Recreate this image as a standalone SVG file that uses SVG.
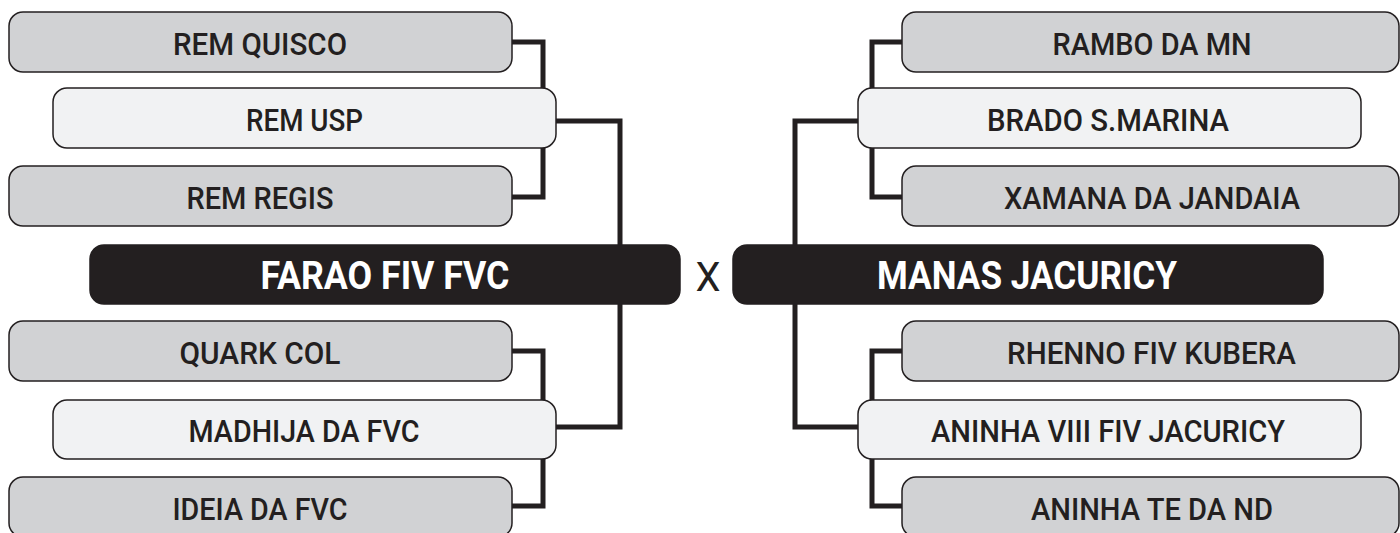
<svg xmlns="http://www.w3.org/2000/svg" width="1400" height="533" viewBox="0 0 1400 533">
<style>
.c{fill:none;stroke:#231f20;stroke-width:5;stroke-linejoin:miter}
.g{fill:#d1d2d4;stroke:#231f20;stroke-width:1.5}
.l{fill:#f1f2f3;stroke:#231f20;stroke-width:1.5}
.b{fill:#231f20;stroke:#231f20;stroke-width:1.5}
.t{font-family:Roboto,"Liberation Sans",Arial,sans-serif;font-size:31px;font-weight:500;fill:#231f20;text-anchor:middle}
.tb{font-family:Roboto,"Liberation Sans",Arial,sans-serif;font-size:38px;font-weight:700;fill:#ffffff;text-anchor:middle}
.x{font-family:Roboto,"Liberation Sans",Arial,sans-serif;font-size:40px;fill:#231f20;text-anchor:middle}
</style>
<rect width="1400" height="533" fill="#ffffff"/>
<g id="connectors">
<path class="c" d="M512,42 H543 V197 H512"/>
<path class="c" d="M556,121 H620 V427 H556"/>
<path class="c" d="M512,351 H543 V506 H512"/>
<path class="c" d="M902,42 H872 V197 H902"/>
<path class="c" d="M858,121 H795 V427 H858"/>
<path class="c" d="M902,351 H872 V506 H902"/>
</g>
<g id="n-rem-quisco"><rect class="g" x="9" y="12" width="503" height="60" rx="14"/><text class="t" x="260" y="55" textLength="174" lengthAdjust="spacingAndGlyphs">REM QUISCO</text></g>
<g id="n-rem-usp"><rect class="l" x="53" y="88" width="503" height="60" rx="14"/><text class="t" x="304.5" y="131" textLength="117" lengthAdjust="spacingAndGlyphs">REM USP</text></g>
<g id="n-rem-regis"><rect class="g" x="9" y="166" width="503" height="60" rx="14"/><text class="t" x="260" y="209" textLength="147" lengthAdjust="spacingAndGlyphs">REM REGIS</text></g>
<g id="n-farao"><rect class="b" x="90" y="245" width="590" height="59" rx="14"/><text class="tb" x="385" y="289" textLength="249" lengthAdjust="spacingAndGlyphs">FARAO FIV FVC</text></g>
<g id="n-quark-col"><rect class="g" x="9" y="321" width="503" height="60" rx="14"/><text class="t" x="260" y="364" textLength="161" lengthAdjust="spacingAndGlyphs">QUARK COL</text></g>
<g id="n-madhija"><rect class="l" x="53" y="400" width="503" height="59" rx="14"/><text class="t" x="304" y="442" textLength="231" lengthAdjust="spacingAndGlyphs">MADHIJA DA FVC</text></g>
<g id="n-ideia"><rect class="g" x="9" y="477" width="503" height="60" rx="14"/><text class="t" x="260" y="520" textLength="175" lengthAdjust="spacingAndGlyphs">IDEIA DA FVC</text></g>
<g id="vs"><text class="x" x="708" y="291" textLength="25" lengthAdjust="spacingAndGlyphs">X</text></g>
<g id="n-rambo"><rect class="g" x="902" y="12" width="497" height="60" rx="14"/><text class="t" x="1152" y="55" textLength="199" lengthAdjust="spacingAndGlyphs">RAMBO DA MN</text></g>
<g id="n-brado"><rect class="l" x="858" y="88" width="503" height="60" rx="14"/><text class="t" x="1108" y="131" textLength="242" lengthAdjust="spacingAndGlyphs">BRADO S.MARINA</text></g>
<g id="n-xamana"><rect class="g" x="902" y="166" width="497" height="60" rx="14"/><text class="t" x="1152" y="209" textLength="296" lengthAdjust="spacingAndGlyphs">XAMANA DA JANDAIA</text></g>
<g id="n-manas"><rect class="b" x="733" y="245" width="590" height="59" rx="14"/><text class="tb" x="1027" y="289" textLength="300" lengthAdjust="spacingAndGlyphs">MANAS JACURICY</text></g>
<g id="n-rhenno"><rect class="g" x="902" y="321" width="497" height="60" rx="14"/><text class="t" x="1151.5" y="364" textLength="289" lengthAdjust="spacingAndGlyphs">RHENNO FIV KUBERA</text></g>
<g id="n-aninha-viii"><rect class="l" x="858" y="400" width="503" height="59" rx="14"/><text class="t" x="1108" y="442" textLength="354" lengthAdjust="spacingAndGlyphs">ANINHA VIII FIV JACURICY</text></g>
<g id="n-aninha-te"><rect class="g" x="902" y="477" width="497" height="60" rx="14"/><text class="t" x="1152" y="520" textLength="242" lengthAdjust="spacingAndGlyphs">ANINHA TE DA ND</text></g>
</svg>
